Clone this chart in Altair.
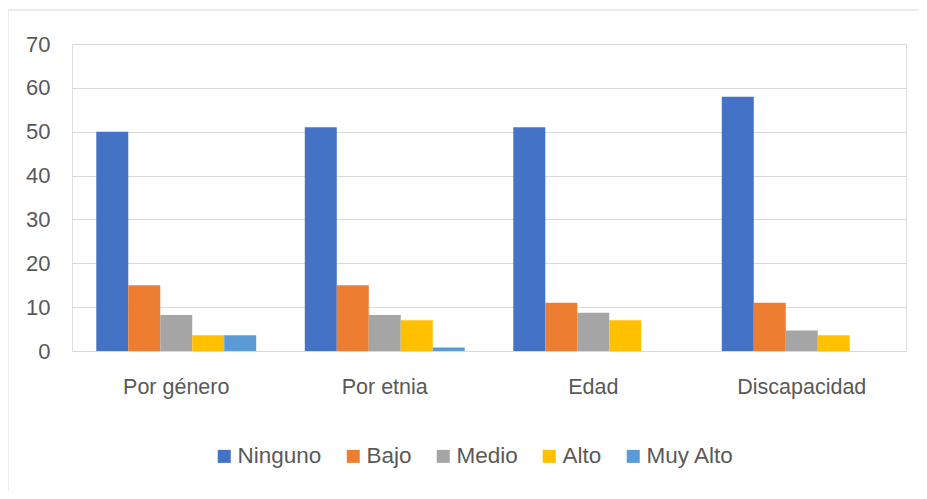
import altair as alt
import pandas as pd

categorias = ["Por género", "Por etnia", "Edad", "Discapacidad"]
series = ["Ninguno", "Bajo", "Medio", "Alto", "Muy Alto"]
ninguno = [50, 51, 51, 58]
bajo = [15, 15, 11, 11]
medio = [8.2, 8.2, 8.7, 4.7]
alto = [3.6, 7, 7, 3.6]
muy_alto = [3.6, 0.8, 0, 0]
colores = ["#4472C4", "#ED7D31", "#A5A5A5", "#FFC000", "#5B9BD5"]
y_ticks = [0, 10, 20, 30, 40, 50, 60, 70]

valores = [ninguno, bajo, medio, alto, muy_alto]
rows = []
for s, vals in zip(series, valores):
    for c, v in zip(categorias, vals):
        rows.append({"categoria": c, "serie": s, "valor": v})
df = pd.DataFrame(rows)

FONT = "Liberation Sans"
TXT = "#595959"

bars = alt.Chart(df).mark_bar().encode(
    x=alt.X("categoria:N", sort=categorias, title=None,
            scale=alt.Scale(paddingInner=0.233, paddingOuter=0.1165),
            axis=alt.Axis(labelAngle=0, ticks=False, domain=False, grid=False,
                          labelFont=FONT, labelFontSize=21.5, labelColor=TXT,
                          labelPadding=25)),
    xOffset=alt.XOffset("serie:N", sort=series, scale=alt.Scale(paddingInner=0, paddingOuter=0)),
    y=alt.Y("valor:Q", title=None,
            scale=alt.Scale(domain=[0, 70], nice=False),
            axis=alt.Axis(values=y_ticks, ticks=False, domain=False,
                          gridColor="#d9d9d9", gridWidth=1,
                          labelFont=FONT, labelFontSize=22, labelColor=TXT,
                          labelPadding=22)),
    color=alt.Color("serie:N", sort=series,
                    scale=alt.Scale(domain=series, range=colores),
                    legend=alt.Legend(title=None, orient="none", direction="horizontal",
                                      legendX=141, legendY=401,
                                      symbolType="square", symbolSize=169,
                                      symbolStrokeWidth=0, symbolOpacity=1,
                                      labelFont=FONT, labelFontSize=22.5, labelColor=TXT,
                                      columnPadding=20, symbolOffset=0, labelOffset=2)),
)

frame = alt.Chart(pd.DataFrame({"a": [0]})).mark_rect(
    fill=None, stroke="#d9d9d9", strokeWidth=1
).encode(
    x=alt.value(-64), x2=alt.value(960), y=alt.value(-34), y2=alt.value(600)
)

chart = alt.layer(frame, bars).properties(
    width=834, height=307,
    padding={"left": 64, "top": 36, "right": 13, "bottom": 140},
    autosize=alt.AutoSizeParams(type="none"),
).configure_view(stroke=None).configure(background="white")

chart.save("out.html", embed_options={"renderer": "svg", "actions": False})
